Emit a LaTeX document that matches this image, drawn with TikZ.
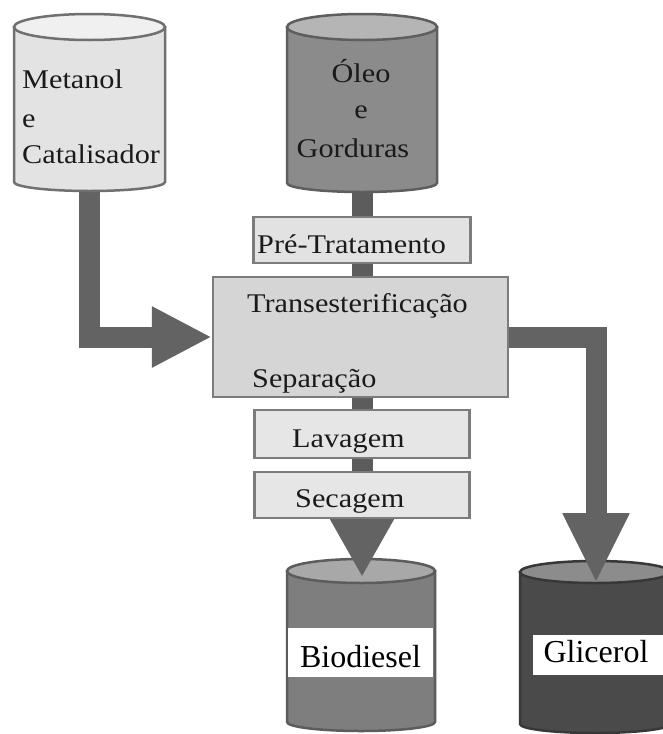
\documentclass[tikz,border=0pt]{standalone}
\usepackage{fontspec}
\setmainfont{Liberation Serif}
\newfontfamily\diag[FakeStretch=1.12]{Liberation Serif}
\usetikzlibrary{arrows.meta}
\pgfdeclarelayer{cyllayer}
\pgfdeclarelayer{arrowlayer}
\pgfsetlayers{cyllayer,arrowlayer,main}
\definecolor{arr}{HTML}{636363}
\definecolor{stubc}{HTML}{5c5c5c}
\definecolor{boxline}{HTML}{7c7c7c}
\definecolor{preFill}{HTML}{E2E2E2}
\definecolor{transFill}{HTML}{D5D5D5}
\definecolor{lavFill}{HTML}{E6E6E6}
\definecolor{metBody}{HTML}{E3E3E3}
\definecolor{metTop}{HTML}{F0F0F0}
\definecolor{metLine}{HTML}{707070}
\definecolor{oleoBody}{HTML}{8B8B8B}
\definecolor{oleoTop}{HTML}{B5B5B5}
\definecolor{oleoLine}{HTML}{5E5E5E}
\definecolor{bioBody}{HTML}{7E7E7E}
\definecolor{bioTop}{HTML}{A8A8A8}
\definecolor{bioLine}{HTML}{5C5C5C}
\definecolor{gliBody}{HTML}{4A4A4A}
\definecolor{gliTop}{HTML}{8C8C8C}
\definecolor{gliLine}{HTML}{383838}
\definecolor{txt}{HTML}{1A1A1A}
\begin{document}
\begin{tikzpicture}[x=1pt,y=-1pt,
  box/.style={draw=boxline, line width=2.5pt, fill=#1, inner sep=0pt},
  lbl/.style={font=\diag\fontsize{27}{30}\selectfont, text=txt, inner sep=0pt, anchor=base west},
  clbl/.style={font=\diag\fontsize{27}{30}\selectfont, text=txt, inner sep=0pt, anchor=base},
  blbl/.style={font=\fontsize{32}{36}\selectfont, text=black, inner sep=0pt, anchor=base},
  fat/.style={draw=arr, line width=21pt, line join=miter},
  stubline/.style={draw=stubc, line width=21pt},
  cylline/.style={line width=2.5pt},
]
\begin{pgfonlayer}{cyllayer}
\useasboundingbox (0,0) rectangle (660,734);
\fill[white] (0,0) rectangle (660,734);
% bottom cylinders
\path[draw=bioLine, fill=bioBody, cylline] (287,571) -- (287,722) arc[start angle=180, end angle=0, x radius=74, y radius=9] -- (435,571) -- cycle;
\path[draw=bioLine, fill=bioTop, cylline] (361,571) ellipse[x radius=74, y radius=12];
\path[draw=gliLine, fill=gliBody, cylline] (520,572) -- (520,724) arc[start angle=180, end angle=0, x radius=75, y radius=9] -- (670,572) -- cycle;
\path[draw=gliLine, fill=gliTop, cylline] (595,572) ellipse[x radius=75, y radius=11];
\end{pgfonlayer}

% process boxes
\node[box=preFill, minimum width=217pt, minimum height=46pt] (pre) at (362,240) {};
\node[box=transFill, minimum width=295pt, minimum height=120pt] (trans) at (360.5,337) {};
\node[box=lavFill, minimum width=215pt, minimum height=48pt] (lav) at (362,434) {};
\node[box=lavFill, minimum width=215pt, minimum height=46pt] (sec) at (362,495) {};

\coordinate (metB) at (89,175);
\coordinate (oleoB) at (362,180);
\coordinate (bioT) at (362,577);
\coordinate (gliT) at (596,583);

\begin{pgfonlayer}{arrowlayer}
\draw[fat, -{Triangle[length=60pt, width=57pt]}] (metB) |- (trans.west);
\draw[fat, -{Triangle[length=70pt, width=62pt]}] (trans.center) -| (gliT);
\draw[fat, -{Triangle[length=59pt, width=61pt]}] (sec.center) -- (bioT);
\draw[stubline] (oleoB) -- (pre.north);
\draw[stubline] (pre.south) -- (pre.south |- trans.north);
\draw[stubline] (lav.north |- trans.south) -- (lav.north);
\draw[stubline] (lav.south) -- (sec.north);
\end{pgfonlayer}

% top cylinders
\path[draw=metLine, fill=metBody, cylline] (14,27) -- (14,182) arc[start angle=180, end angle=0, x radius=75.5, y radius=9] -- (165,27) -- cycle;
\path[draw=metLine, fill=metTop, cylline] (89.5,27) ellipse[x radius=75.5, y radius=13];
\path[draw=oleoLine, fill=oleoBody, cylline] (287,27) -- (287,183) arc[start angle=180, end angle=0, x radius=75, y radius=9] -- (437,27) -- cycle;
\path[draw=oleoLine, fill=oleoTop, cylline] (362,27) ellipse[x radius=75, y radius=13];

% labels
\node[lbl] (t1) at (22,88) {Metanol};
\node[lbl] (t2) at (22,127) {e};
\node[lbl] (t3) at (22,163) {Catalisador};
\node[clbl] (t4) at (361,82) {Óleo};
\node[clbl] (t5) at (361,118) {e};
\node[clbl] (t6) at (353,157) {Gorduras};
\node[lbl] (t7) at (257,253) {Pré-Tratamento};
\node[lbl] (t8) at (247,312) {Transesterificação};
\node[lbl] (t9) at (252,387) {Separação};
\node[lbl] (t10) at (292,447) {Lavagem};
\node[lbl] (t11) at (295,507) {Secagem};

\node[fill=white, minimum width=145pt, minimum height=49pt, inner sep=0pt] (bioL) at (360.5,652.5) {};
\node[blbl] (t12) at (360.5,667) {Biodiesel};
\node[fill=white, minimum width=130pt, minimum height=40pt, inner sep=0pt] (gliL) at (598,655) {};
\node[blbl] (t13) at (596,662) {Glicerol};
\end{tikzpicture}
\end{document}
